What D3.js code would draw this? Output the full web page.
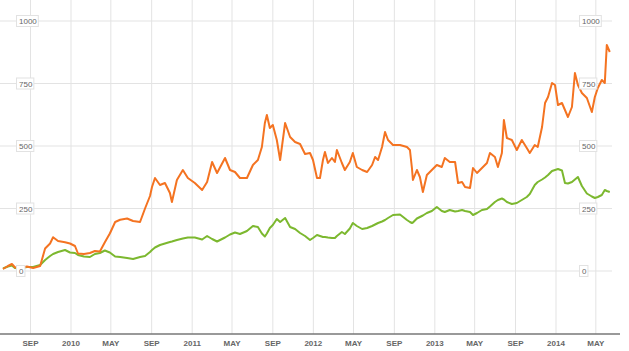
<!DOCTYPE html>
<meta charset="utf-8">
<head>
    <title>Price history</title>
    <script src="https://d3js.org/d3.v7.min.js"></script>
    <style>
        body { margin: 0; background: #fff; }
        #chart { display: block; }
        .grid line { stroke: #e3e3e3; stroke-width: 1; }
        .ylab text { font: 8px Arial, "Liberation Sans", sans-serif; fill: #666; }
        .ylab rect { fill: #fff; stroke: #e2e2e2; stroke-width: 1; }
        .xlab text { font: bold 8px Arial, "Liberation Sans", sans-serif; fill: #666; }
    </style>
</head>
<body>
<svg id="chart"></svg>
<script>
    // dates shared by both series
    const dates = [
        "2009-06-10","2009-06-25","2009-07-07","2009-07-16","2009-07-31","2009-08-21","2009-09-09","2009-09-30",
        "2009-10-15","2009-10-30","2009-11-08","2009-11-23","2009-12-14","2009-12-29","2010-01-13","2010-01-22",
        "2010-02-09","2010-02-27","2010-03-14","2010-03-29","2010-04-13","2010-04-28","2010-05-14","2010-05-29",
        "2010-06-19","2010-07-07","2010-07-28","2010-08-12","2010-08-27","2010-09-02","2010-09-11","2010-09-26",
        "2010-10-11","2010-10-26","2010-11-01","2010-11-16","2010-12-04","2010-12-19","2011-01-09","2011-01-31",
        "2011-02-15","2011-03-02","2011-03-17","2011-04-10","2011-04-25","2011-05-10","2011-05-25","2011-06-15",
        "2011-07-03","2011-07-18","2011-07-30","2011-08-08","2011-08-14","2011-08-23","2011-09-01","2011-09-13",
        "2011-09-23","2011-10-08","2011-10-23","2011-11-07","2011-11-22","2011-12-07","2011-12-22","2011-12-31",
        "2012-01-12","2012-01-21","2012-01-30","2012-02-05","2012-02-14","2012-02-26","2012-03-06","2012-03-12",
        "2012-03-27","2012-04-05","2012-04-20","2012-04-29","2012-05-11","2012-05-27","2012-06-11","2012-06-26",
        "2012-07-05","2012-07-14","2012-07-26","2012-08-04","2012-08-13","2012-08-28","2012-09-18","2012-10-09",
        "2012-10-18","2012-10-24","2012-10-27","2012-11-08","2012-11-17","2012-11-26","2012-12-08","2012-12-23",
        "2013-01-07","2013-01-22","2013-01-31","2013-02-15","2013-03-03","2013-03-12","2013-03-24","2013-04-02",
        "2013-04-17","2013-04-26","2013-05-08","2013-05-23","2013-06-07","2013-06-16","2013-07-01","2013-07-10",
        "2013-07-22","2013-07-28","2013-08-06","2013-08-21","2013-09-05","2013-09-20","2013-10-05","2013-10-14",
        "2013-10-29","2013-11-07","2013-11-20","2013-11-29","2013-12-08","2013-12-20","2013-12-29","2014-01-07",
        "2014-01-19","2014-01-28","2014-02-06","2014-02-18","2014-02-27","2014-03-08","2014-03-20","2014-04-04",
        "2014-04-19","2014-04-28","2014-05-07","2014-05-19","2014-05-28","2014-06-03","2014-06-12"
    ]

    const orangeValues = [
        8, 20, 28, 15, 10, 18, 12, 20,
        90, 110, 135, 120, 115, 110, 100, 70,
        68, 72, 80, 78, 115, 150, 196, 205,
        210, 200, 196, 250, 300, 336, 372, 344,
        352, 312, 276, 364, 404, 372, 352, 324,
        356, 436, 392, 452, 404, 396, 372, 372,
        424, 444, 496, 592, 624, 572, 584, 524,
        444, 592, 536, 516, 508, 468, 472, 444,
        372, 372, 444, 476, 432, 452, 436, 484,
        432, 404, 436, 472, 416, 404, 396, 424,
        456, 444, 496, 556, 524, 504, 504, 496,
        484, 412, 364, 404, 376, 316, 384, 404,
        424, 416, 452, 436, 436, 352, 356, 336,
        332, 412, 392, 412, 432, 472, 456, 416,
        472, 604, 532, 524, 484, 524, 492, 472,
        504, 496, 576, 672, 696, 752, 744, 664,
        672, 644, 616, 656, 792, 744, 712, 692,
        636, 696, 732, 764, 752, 904, 876
    ]

    const greenValues = [
        10, 18, 22, 12, 10, 16, 16, 24,
        44, 60, 68, 76, 84, 74, 72, 64,
        58, 56, 68, 72, 82, 74, 58, 56,
        52, 48, 56, 60, 76, 84, 94, 104,
        110, 116, 118, 124, 130, 134, 134, 126,
        140, 128, 118, 134, 146, 154, 148, 160,
        180, 176, 150, 138, 150, 172, 184, 208,
        196, 212, 176, 168, 152, 140, 124, 132,
        144, 140, 136, 136, 134, 132, 132, 140,
        156, 148, 170, 192, 180, 168, 172, 180,
        186, 192, 198, 204, 212, 224, 226, 204,
        196, 192, 194, 210, 216, 222, 232, 240,
        256, 240, 236, 244, 238, 240, 244, 240,
        236, 224, 232, 244, 248, 258, 276, 284,
        290, 286, 276, 268, 272, 284, 296, 308,
        344, 356, 366, 374, 384, 400, 404, 408,
        402, 352, 350, 356, 366, 376, 340, 310,
        298, 292, 296, 304, 324, 320, 316
    ]

    const tickDates = ["2009-09-01","2010-01-01","2010-05-01","2010-09-01","2011-01-01","2011-05-01","2011-09-01",
        "2012-01-01","2012-05-01","2012-09-01","2013-01-01","2013-05-01","2013-09-01","2014-01-01","2014-05-01"]
    const tickLabels = ["SEP","2010","MAY","SEP","2011","MAY","SEP","2012","MAY","SEP","2013","MAY","SEP","2014","MAY"]
    const yTicks = [0, 250, 500, 750, 1000]

    const width = 629, height = 351
    const svg = d3.select('#chart').attr('width', width).attr('height', height)

    const parse = d3.utcParse('%Y-%m-%d')
    const x = d3.scaleUtc()
        .domain([parse('2010-01-01'), parse('2014-01-01')])
        .range([71, 556])
    const y = d3.scaleLinear().domain([0, 1000]).range([271, 21])

    const baseY = 334

    // vertical grid
    svg.append('g').attr('class', 'grid')
        .selectAll('line').data(tickDates).enter().append('line')
        .attr('x1', d => x(parse(d))).attr('x2', d => x(parse(d)))
        .attr('y1', 0).attr('y2', baseY)

    // horizontal grid
    svg.append('g').attr('class', 'grid')
        .selectAll('line').data(yTicks).enter().append('line')
        .attr('x1', 0).attr('x2', 612)
        .attr('y1', d => y(d)).attr('y2', d => y(d))

    const orange = dates.map((d, i) => ({ date: parse(d), v: orangeValues[i] }))
    const green = dates.map((d, i) => ({ date: parse(d), v: greenValues[i] }))

    const line = d3.line().x(d => x(d.date)).y(d => y(d.v))

    svg.append('path').datum(green)
        .attr('d', line).attr('fill', 'none')
        .attr('stroke', '#7cb82f').attr('stroke-width', 2).attr('stroke-linejoin', 'round')

    svg.append('path').datum(orange)
        .attr('d', line).attr('fill', 'none')
        .attr('stroke', '#f47321').attr('stroke-width', 2).attr('stroke-linejoin', 'round')

    // boxed y labels on both sides
    function yLabels(x0) {
        const g = svg.append('g').attr('class', 'ylab')
        yTicks.forEach(v => {
            const t = g.append('text')
                .attr('x', x0 + 2).attr('y', y(v) + 3)
                .text(v)
            const w = t.node().getComputedTextLength()
            g.insert('rect', 'text')
                .attr('x', x0 - 0.5).attr('y', y(v) - 5.5)
                .attr('width', w + 4).attr('height', 11)
        })
    }
    yLabels(17)
    yLabels(580)

    // bottom axis
    svg.append('line')
        .attr('x1', 0).attr('x2', 620)
        .attr('y1', baseY).attr('y2', baseY)
        .attr('stroke', '#777').attr('stroke-width', 1.5)

    svg.append('g').attr('class', 'xlab')
        .selectAll('text').data(tickDates).enter().append('text')
        .attr('x', (d) => x(parse(d)))
        .attr('y', 346)
        .attr('text-anchor', 'middle')
        .text((d, i) => tickLabels[i])
</script>
</body>
</html>
